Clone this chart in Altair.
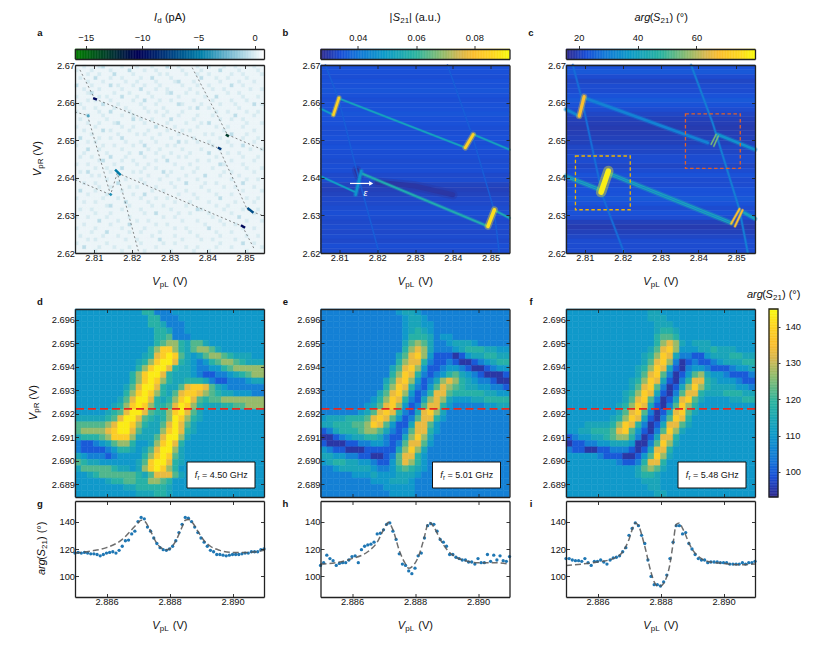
import altair as alt
import numpy as np
import pandas as pd

FONT = "Liberation Sans"
INK = "#222222"

# ---------- domains ----------
TOP_X = [2.805, 2.855]
TOP_Y = [2.62, 2.67]
BOT_X = [2.885, 2.891]
BOT_Y = [2.68845, 2.69645]
LINE_Y = [85, 155]
CB_A = [-15.95, 0.83]
CB_B = [0.0272, 0.0921]
CB_C = [15.7, 79.9]
CB_D = [93.1, 144.85]

PARULA_T = [0, .11, .2, .34, .505, .64, .74, .81, .92, 1]
PARULA_C = ["#322a8c", "#1a50d8", "#1578d8", "#0f9cc8", "#2bb4a0", "#8cbc70", "#d8b850", "#fbbf30", "#fdd820", "#f9fb0e"]
OCEAN_T = [0, .2, .333, .5, .667, .833, 1]
OCEAN_C = ["#008000", "#003333", "#000055", "#004080", "#0080aa", "#80bfd4", "#ffffff"]


def cscale(dom, ts, cs):
    return alt.Scale(domain=[dom[0] + (dom[1] - dom[0]) * t for t in ts], range=cs, clamp=True, interpolate="rgb")


SC_A = cscale(CB_A, OCEAN_T, OCEAN_C)
SC_B = cscale(CB_B, PARULA_T, PARULA_C)
SC_C = cscale(CB_C, PARULA_T, PARULA_C)
SC_D = cscale(CB_D, PARULA_T, PARULA_C)

# ---------- heat map levels: one character per cell, top row first ----------
LEVEL_D = {"0": 95, "1": 100, "2": 105, "3": 110, "4": 114, "5": 118, "6": 122, "7": 127, "8": 133, "9": 138, "a": 143}
LEVEL_A = {"0": 0.4, "1": -0.05, "2": -0.6}

GRID_A = [
 "00100012000010001000100020010000100100010010000100",
 "10001000010000200010010000001000010000200001000010",
 "00010010002000010000001010000100100100000100100001",
 "01000200010010000100200001000000020001001000010000",
 "00010001000001001000010000120001000000100001000100",
 "20001000020100010010001000001000100100000200100000",
 "00100010000010000200010010000010000010010000001001",
 "00012000001000100001000012000100100000001001000000",
 "10000010100020001000100000010000001002000000100010",
 "00010100010000010020001001000001000010000100010000",
 "01000002000100000100010000021000010000100010000201",
 "00100100001001000010000100000010200100000001000000",
 "10000010020000100001010010001000000001001000010010",
 "00020001000010010000000100010000100010000020000100",
 "01000000100000020100100002000001000000100100100000",
 "00010010001200000010000010000100010200000000010001",
 "10000100000010010000020000100000100001001000100000",
 "00100002010000100001000010001010000000010000000100",
 "00001000000100001010001000010000001010000200010000",
 "02000010010020000000100001000001000000100000100010",
 "00010100000001000100010000020100100100001000000100",
 "10000001001000010020000010100000000010000100200000",
 "00020010000010000001001000001000010000100000001001",
 "00100000100000100200010001000010000200001001000000",
 "01001000020001000010000100010100000001000000100010",
 "00000012000010010000010020000000100100000100000100",
 "10010000001000001001000000100010000000210000100000",
 "00000100100020000010010000001000100010000000010001",
 "01020000010000010100000201000001000000010100000100",
 "00001010000100000001000010000100002000100001000000",
 "10000000100001000100001000010000100000000100010010",
 "00100100000200000010000001000200001001000000200000",
 "00000010010000101000010000100000010000010010000100",
 "02000100000010000000100100000100000100000000100001",
 "00010000100000010020000000010001000001000100000000",
 "10000001000100000100010010000000100000200000010010",
 "00100100000002000001000000100010000100000010000100",
 "00000000120000100000100100000100000001001000000000",
 "01001000000010000100000001000000210000010000100010",
 "00000100010000000010020000010010000100000100000100",
 "10010000100000100000000100100000000010000002000000",
 "00000020000100001001000000001000100000100000010001",
 "00100000010000200000010010000000001000010010000000",
 "10000100000010000010000000100100000200000000100100",
 "00001000200000100100001000000010000001000100000000",
 "01000001000100000000100000100000100000100000010010",
 "00010100000001001000002000001000010010000010000000",
 "10000000100000000100000100100000000000100000200100",
 "00200010001000100000010000000100100001000100000001",
 "00000100000010000010000001000001000100000000010000",
]
GRID_D = [
 "3"*11+"55222"+"3"*14, "3"*12+"55222"+"3"*13, "3"*12+"554222"+"3"*12, "3"*13+"55422"+"3"*12,
 "3"*13+"556222"+"3"*11, "3"*13+"5677546643"+"3"*7, "3"*12+"579975467764"+"3"*6,
 "3"*11+"4589a9643467765"+"4443", "3"*10+"4579aa85432356776544", "3"*10+"579aa854432233567777",
 "3"*9+"579aa8544432112234567", "3"*9+"579a97544555421122234", "3"*8+"468aa85446899864322222",
 "3"*8+"579a975468998765443332", "3"*7+"468aa854579a865667777777",
 "3"*6+"4579a975568a975444556677", "3"*5+"4568aa865579a864"+"3"*9,
 "44444568aa865457a97543"+"3"*7, "6666678aa9754468a864"+"3"*10,
 "6777789aa8644479a854"+"3"*10, "455567999744468aa74"+"3"*11,
 "211234677533479a85"+"3"*12, "2111123554346" + "8aa74"+"3"*12,
 "43222123333579a964"+"3"*12, "6544333333469aa854"+"3"*12,
 "4666665443479a975"+"3"*13, "334566666654688864"+"3"*12,
 "3"*5+"45566557765"+"3"*14, "3"*8+"44555554"+"3"*14, "3"*10+"444554"+"3"*14,
]
GRID_E = [
 "2"*12+"3443"+"2"*14, "2"*13+"3443"+"2"*13, "2"*13+"34433"+"2"*12, "2"*13+"34543"+"2"*12,
 "2"*13+"35554233"+"2"*9, "2"*13+"467642234443"+"2"*5, "2"*13+"57874222345554433",
 "2"*12+"468973111013445544", "2"*12+"578852112100123455", "2"*11+"4689731123321001233",
 "2"*11+"5798521235643210001", "2"*10+"46897312478754322100", "2"*10+"57985213687654433221",
 "2"*9+"468973125886555554433", "2"*8+"3579852147874333445555", "2"*7+"34689731268853222223344",
 "2"*6+"34689852148974"+"2"*10, "34445556898631268853"+"2"*10, "4455566798631148863"+"2"*11,
 "1245556776421268853"+"2"*11, "001234455421147974"+"2"*12, "100011223321268863"+"2"*12,
 "32110001111147974"+"2"*13, "44332211001268853"+"2"*13, "34554433211368753"+"2"*13,
 "22344444322356543"+"2"*13, "2"*5+"33343334443"+"2"*14, "2"*8+"3334443"+"2"*15,
 "2"*10+"33333"+"2"*15, "2"*11+"3333"+"2"*15,
]
GRID_F = [
 "3"*13+"44"+"3"*15, "3"*13+"444"+"3"*14, "3"*14+"444"+"3"*13, "3"*14+"4554"+"3"*12, "3"*14+"5665"+"3"*12,
 "3"*14+"578743444"+"3"*7, "3"*13+"46897333445444"+"3"*3, "3"*12+"457984221134445544",
 "3"*12+"468972012112344455", "3"*11+"4579841023321112334", "3"*11+"4689620136743321112",
 "3"*10+"45798410258854333211", "3"*10+"46896201479754444332", "3"*9+"457984102688544455544",
 "3"*9+"468962014896433334455", "3"*8+"4579841026975"+"3"*9, "3"*8+"4689620148964"+"3"*9,
 "3"*7+"4579841026985"+"3"*10, "333"+"44445798520148864"+"3"*10, "3344555689631026974"+"3"*11,
 "123344567752014885"+"3"*12, "011223344430026974"+"3"*12, "21100112221014885"+"3"*13,
 "3"*5+"211100136974"+"3"*13, "3"*8+"21125885"+"3"*14, "3"*11+"46764"+"3"*14,
 "3"*11+"4554"+"3"*15, "3"*12+"444"+"3"*15, "3"*13+"44"+"3"*15, "3"*14+"44"+"3"*14,
]

# ---------- horizontal stripes of panels b and c, top row first ----------
STRIPES_B = [.0345, .0345, .034, .0345, .0345, .035, .0345, .034, .0345, .0345, .035, .0345, .0345, .034, .034, .0345,
             .034, .0345, .034, .034, .0335, .034, .034, .033, .0335, .032, .0315, .032, .033, .033, .0335, .034,
             .0335, .033, .0335, .033, .0335, .033, .034, .0335]
STRIPES_C = [23, 24, 22, 21, 22, 22, 23, 24, 23, 22, 21, 20, 19.5, 19, 19.5, 20, 20, 21, 21, 22,
             22, 21, 22, 23, 22, 22, 23, 23, 24, 23, 22, 23, 22, 20, 19, 20, 21, 22, 22, 22]

# ---------- transition lines: (x list, y list, value) ----------
LINES_A = {
 "l1": ([2.8063, 2.8102], [2.6687, 2.6610], -3.0), "l2": ([2.8083, 2.8162, 2.8144, 2.8219], [2.6566, 2.6413, 2.6355, 2.62], -3.0),
 "l3": ([2.8102, 2.8427], [2.6610, 2.6480], -3.0), "l4": ([2.805, 2.8083], [2.6575, 2.6566], -3.0),
 "l5": ([2.8162, 2.8493], [2.6413, 2.6271], -3.0), "l6": ([2.805, 2.8144], [2.6395, 2.6355], -3.0),
 "l7": ([2.836, 2.8453], [2.6693, 2.6515], -3.0), "l8": ([2.8453, 2.855], [2.6515, 2.6473], -3.0),
 "l9": ([2.8431, 2.8506], [2.6478, 2.6315], -3.0), "l10": ([2.8506, 2.855], [2.6315, 2.6298], -3.0),
 "l11": ([2.8493, 2.8525], [2.6271, 2.6209], -3.0),
}
SPOTS_A = {
 "s1": ([2.8098, 2.8108], [2.6612, 2.6608], -10), "s2": ([2.8156, 2.8171], [2.6422, 2.6407], -5),
 "s3": ([2.8142, 2.8147], [2.6358, 2.6353], -4), "s4": ([2.8083, 2.8087], [2.6568, 2.6562], -3),
 "s5": ([2.8449, 2.8457], [2.6515, 2.651], -13), "s6": ([2.8428, 2.8437], [2.648, 2.6476], -8),
 "s7": ([2.8489, 2.85], [2.6274, 2.6267], -10), "s8": ([2.8506, 2.8522], [2.632, 2.6307], -7),
}
LINES_B = {
 "d1": ([2.82, 2.83, 2.84], [2.6388, 2.6378, 2.6355], .0295), "d2": ([2.8146, 2.8152], [2.642, 2.6405], .029),
 "f1": ([2.8063, 2.8098, 2.8145, 2.8205], [2.67, 2.6609, 2.6422, 2.62], .0365),
 "f2": ([2.8386, 2.8452, 2.8509, 2.8523], [2.67, 2.6511, 2.6315, 2.62], .0365),
 "t1": ([2.8099, 2.8434], [2.6611, 2.648], .052), "t2": ([2.805, 2.8085], [2.6584, 2.6567], .05),
 "t3": ([2.8455, 2.855], [2.6515, 2.6475], .052), "t4": ([2.805, 2.814], [2.6404, 2.6363], .05),
 "t5": ([2.816, 2.8493], [2.6411, 2.6271], .056), "t6": ([2.851, 2.855], [2.6314, 2.6293], .055),
 "m1": ([2.8143, 2.8158], [2.6355, 2.6418], .047),
 "y1": ([2.8084, 2.8099], [2.6567, 2.6613], .085), "y2": ([2.8433, 2.8454], [2.648, 2.6515], .085),
 "y3": ([2.8493, 2.851], [2.6271, 2.6315], .088),
}
WIDTHS_B = {"d1": 5, "d2": 5, "f1": 1.1, "f2": 1.1, "t1": 1.5, "t2": 1.5, "t3": 1.5, "t4": 1.5, "t5": 2, "t6": 1.7, "m1": 2.6, "y1": 2.6, "y2": 3, "y3": 3.6}
LINES_C = {
 "f1": ([2.8068, 2.809, 2.8147, 2.8204], [2.67, 2.6617, 2.6351, 2.62], 27),
 "f2": ([2.8381, 2.8438, 2.8509, 2.8531], [2.67, 2.6546, 2.6315, 2.62], 30),
 "u1": ([2.8098, 2.8425], [2.6613, 2.6493], 31), "u2": ([2.8451, 2.855], [2.6515, 2.6475], 35),
 "u3": ([2.805, 2.8085], [2.6582, 2.6564], 32),
 "w1": ([2.8169, 2.8487], [2.6409, 2.628], 42), "w2": ([2.805, 2.8138], [2.6404, 2.6369], 42),
 "w3": ([2.8522, 2.855], [2.6307, 2.6291], 40),
 "in1": ([2.8169, 2.8487], [2.6409, 2.628], 29), "in2": ([2.805, 2.8138], [2.6404, 2.6369], 29),
 "r1": ([2.8434, 2.8447], [2.6489, 2.6515], 55), "r2": ([2.8441, 2.8453], [2.6484, 2.6511], 55),
 "r3": ([2.8487, 2.8509], [2.6278, 2.6317], 68), "r4": ([2.8497, 2.8517], [2.6271, 2.6314], 68),
 "y1": ([2.8085, 2.8098], [2.6564, 2.6616], 68), "y2": ([2.8143, 2.8162], [2.6362, 2.6418], 78),
}
WIDTHS_C = {"f1": 1.6, "f2": 1.6, "u1": 2.6, "u2": 2.6, "u3": 2.6, "w1": 3, "w2": 3, "w3": 2.6, "in1": .8, "in2": .8,
            "r1": 1.2, "r2": 1.2, "r3": 1.7, "r4": 1.7, "y1": 3.2, "y2": 5.5}

BOX_YELLOW = ([2.8075, 2.822], [2.6315, 2.6458])
BOX_RED = ([2.8366, 2.8511], [2.6425, 2.657])
ARROW = ([2.8128, 2.8184], 2.6385)
EPS = (2.8169, 2.636)
CUT_Y = 2.6922

# ---------- line cuts ----------
SWEEP = [2.8850, 2.8851, 2.8852, 2.8853, 2.8854, 2.8855, 2.8856, 2.8857, 2.8858, 2.8859, 2.8860, 2.8861, 2.8862, 2.8863, 2.8864,
         2.8865, 2.8866, 2.8867, 2.8868, 2.8869, 2.8870, 2.8871, 2.8872, 2.8873, 2.8874, 2.8875, 2.8876, 2.8877, 2.8878, 2.8879,
         2.8880, 2.8881, 2.8882, 2.8883, 2.8884, 2.8885, 2.8886, 2.8887, 2.8888, 2.8889, 2.8890, 2.8891, 2.8892, 2.8893, 2.8894,
         2.8895, 2.8896, 2.8897, 2.8898, 2.8899, 2.8900, 2.8901, 2.8902, 2.8903, 2.8904, 2.8905, 2.8906, 2.8907, 2.8908, 2.8909, 2.8910]
CUT_G = [117, 117.5, 117, 117.5, 117, 116.5, 116.5, 116, 115, 116, 117, 117.5, 118, 117, 119, 122, 126, 126.5, 131, 133,
         140, 143, 142, 136, 133, 128, 124, 121, 119.5, 119, 120, 122, 126, 132, 138, 143, 142.5, 140, 136, 132,
         128, 125, 122, 119, 118, 116, 116, 115.5, 115, 115.5, 116, 116, 116, 116.5, 117, 117, 118, 118, 118, 119.5, 120]
CUT_H = [108, 110, 115.5, 113, 111.5, 108, 109.5, 110, 110, 112, 114.5, 115, 110, 119.5, 122, 123, 123.5, 125, 131, 131.5,
         134, 138, 139, 133, 127, 116.5, 109, 108, 104, 102, 106, 115, 117, 128, 137, 138.5, 138, 133, 127, 125,
         122, 116, 116, 114, 113, 112, 112, 110.5, 110.5, 109, 113, 110, 110, 116, 111, 115.5, 112, 115, 111.5, 111, 114.5]
CUT_I = [113, 113, 112, 111.5, 111.5, 111, 113, 110, 108, 111, 111, 112, 110.5, 109, 112, 113.5, 114, 115, 118, 121,
         130, 135, 139, 137, 130, 124, 112, 100, 94, 94, 93, 96, 101, 113, 125, 137, 137, 131, 132, 124,
         120, 116, 113, 112, 112, 110, 110.5, 110.5, 110.5, 110, 110, 110, 109, 109, 109, 109, 110, 109, 110, 110, 111]
FIT_G = ([2.885, 2.8855, 2.886, 2.8865, 2.8868, 2.887, 2.8871, 2.8872, 2.8874, 2.8876, 2.8878, 2.8879, 2.888, 2.8882, 2.8884, 2.8885, 2.8886, 2.8887, 2.8889, 2.8891, 2.8893, 2.8896, 2.89, 2.8905, 2.891],
         [117, 118.5, 121, 127, 134, 139, 141, 140.5, 133, 124, 120, 119.5, 120, 126, 136, 141, 141.5, 140, 133, 126, 122, 119, 117.5, 117.5, 119])
FIT_H = ([2.885, 2.8855, 2.886, 2.8865, 2.8868, 2.887, 2.8871, 2.88715, 2.8873, 2.8875, 2.8877, 2.8878, 2.8879, 2.8881, 2.8883, 2.8884, 2.88845, 2.8886, 2.8888, 2.889, 2.8893, 2.8896, 2.89, 2.8905, 2.891],
         [109, 110, 113, 118, 125, 134, 138, 139.5, 134, 119, 109, 106, 107, 114, 129, 138, 139.5, 136, 127, 120, 114, 111.5, 110, 110, 109])
FIT_I = ([2.885, 2.8855, 2.886, 2.8865, 2.8868, 2.887, 2.8871, 2.8872, 2.8873, 2.8875, 2.8877, 2.8878, 2.8879, 2.888, 2.8881, 2.8883, 2.8884, 2.8885, 2.8886, 2.8887, 2.889, 2.8893, 2.8896, 2.89, 2.8905, 2.891],
         [108, 109, 110.5, 113, 118, 127, 134, 139, 137, 122, 103, 96, 93, 93, 95, 109, 124, 138, 139, 135, 120, 113, 110.5, 109.5, 108.5, 109])

TICK_TOP_X = [2.81, 2.82, 2.83, 2.84, 2.85]
TICK_TOP_Y = [2.62, 2.63, 2.64, 2.65, 2.66, 2.67]
TICK_BOT_X = [2.886, 2.888, 2.890]
TICK_BOT_Y = [2.689, 2.690, 2.691, 2.692, 2.693, 2.694, 2.695, 2.696]
TICK_LINE_Y = [100, 120, 140]
TICK_CB_A = [-15, -10, -5, 0]
TICK_CB_B = [0.04, 0.06, 0.08]
TICK_CB_C = [20, 40, 60]
TICK_CB_D = [100, 110, 120, 130, 140]

W, H_TOP, H_BOT, H_CUT, H_CB = 189, 188, 188, 96, 10
ONE = pd.DataFrame({"a": [0]})


def sc(dom):
    return alt.Scale(domain=dom, nice=False, zero=False)


def ax(orient, values, fmt=None, labels=True, ticks=True, size=-3.5):
    kw = dict(orient=orient, values=values, labels=labels, ticks=ticks, title=None, grid=False, domain=True,
              domainColor=INK, domainWidth=1.3, tickColor=INK, tickWidth=0.9, zindex=2,
              labelFont=FONT, labelFontSize=9.3, labelColor="#111111", labelPadding=4)
    kw["tickSize"] = {"expr": str(size)}
    if fmt:
        kw["format"] = fmt
    return alt.Axis(**kw)


def frame(xd, yd, xv, yv, xf=None, yf=None, xl=True, yl=True):
    df = pd.DataFrame({"x": xd, "y": yd})
    a = alt.Chart(df).mark_point(opacity=0).encode(
        x=alt.X("x:Q", scale=sc(xd), axis=ax("bottom", xv, xf, xl)),
        y=alt.Y("y:Q", scale=sc(yd), axis=ax("left", yv, yf, yl)))
    b = alt.Chart(df).mark_point(opacity=0).encode(
        x=alt.X("x:Q", scale=sc(xd), axis=ax("top", xv, None, False)),
        y=alt.Y("y:Q", scale=sc(yd), axis=ax("right", yv, None, False)))
    return [a, b]


def cells(df, xd, yd, scale):
    return alt.Chart(df).mark_rect(strokeWidth=0.5).encode(
        x=alt.X("x0:Q", scale=sc(xd), axis=None), x2="x1:Q",
        y=alt.Y("y0:Q", scale=sc(yd), axis=None), y2="y1:Q",
        color=alt.Color("v:Q", scale=scale, legend=None),
        stroke=alt.Stroke("v:Q", scale=scale, legend=None))


def grid_df(rows, levels, xd, yd):
    n, m = len(rows), max(len(r) for r in rows)
    xe, ye = np.linspace(xd[0], xd[1], m + 1), np.linspace(yd[1], yd[0], n + 1)
    out = []
    for r, row in enumerate(rows):
        row = row[:m].ljust(m, row[-1])
        for c, ch in enumerate(row):
            out.append((xe[c], xe[c + 1], ye[r + 1], ye[r], levels[ch]))
    return pd.DataFrame(out, columns=["x0", "x1", "y0", "y1", "v"])


def stripe_df(vals, xd, yd):
    ye = np.linspace(yd[1], yd[0], len(vals) + 1)
    return pd.DataFrame({"x0": xd[0], "x1": xd[1], "y0": ye[1:], "y1": ye[:-1], "v": vals})


def seg(xs, ys, v, xd, yd, scale, width, **kw):
    df = pd.DataFrame({"x": xs, "y": ys, "v": v})
    return alt.Chart(df).mark_line(strokeWidth=width, **kw).encode(
        x=alt.X("x:Q", scale=sc(xd), axis=None), y=alt.Y("y:Q", scale=sc(yd), axis=None),
        color=alt.Color("v:Q", scale=scale, legend=None))


def soft(lines, widths, scale):
    out = []
    for k, (xs, ys, v) in lines.items():
        w = widths[k]
        if w > 1:
            out.append(seg(xs, ys, v, TOP_X, TOP_Y, scale, w * 1.9, opacity=.38, strokeCap="round"))
        out.append(seg(xs, ys, v, TOP_X, TOP_Y, scale, w, strokeCap="round"))
    return out


def cw(t, s):
    tot = 0
    for ch in t:
        if ch in " ()|.,il:Ifr":
            tot += .29 * s
        elif ch == "°":
            tot += .4 * s
        elif ch == "=":
            tot += .58 * s
        elif ch.isupper():
            tot += .68 * s
        else:
            tot += .556 * s
    return tot


def rich(parts, cx, cy, angle=0):
    total = sum(cw(p[0], p[1]) for p in parts)
    out = []
    pos = -total / 2
    for t, s, st, dy in parts:
        body = t.lstrip(" ")
        lead = pos + cw(t[:len(t) - len(body)], s)
        if angle == 0:
            x, y = cx + lead, cy + dy
        else:
            x, y = cx + dy, cy - lead
        out.append(alt.Chart(ONE).mark_text(text=body, font=FONT, fontSize=s, fontStyle=st, align="left", baseline="alphabetic",
                                            angle=angle, color="#111111").encode(x=alt.value(x), y=alt.value(y)))
        pos += cw(t, s)
    return out


def letter(t, x, y):
    return alt.Chart(ONE).mark_text(text=t, font=FONT, fontSize=9.5, fontWeight="bold", align="center", baseline="alphabetic",
                                    color="#111111").encode(x=alt.value(x), y=alt.value(y))


def merge(layers, w, h):
    return alt.layer(*layers).resolve_scale(x="independent", y="independent", color="independent", stroke="independent") \
        .resolve_axis(x="independent", y="independent").properties(width=w, height=h)


def spacer(h):
    return alt.Chart(ONE).mark_point(opacity=0).encode(x=alt.value(0), y=alt.value(0)).properties(width=W, height=h)


T_N, T_S = 11, 8
P_VPL = [("V", T_N, "italic", 0), ("pL", T_S, "normal", 2), (" (V)", T_N, "normal", 0)]
P_VPR = [("V", T_N, "italic", 0), ("pR", T_S, "normal", 2), (" (V)", T_N, "normal", 0)]
P_ID = [("I", T_N, "italic", 0), ("d", T_S, "normal", 2), (" (pA)", T_N, "normal", 0)]
P_S = [("|", T_N, "normal", 0), ("S", T_N, "italic", 0), ("21", T_S, "normal", 2), ("| (a.u.)", T_N, "normal", 0)]
P_ARG = [("arg", T_N, "italic", 0), ("(", T_N, "normal", 0), ("S", T_N, "italic", 0), ("21", T_S, "normal", 2), (") (°)", T_N, "normal", 0)]


def colorbar(dom, scale, ticks, fmt, title, let):
    vals = np.linspace(dom[0], dom[1], 120)
    df = pd.DataFrame({"x0": vals[:-1], "x1": vals[1:], "y0": 0.0, "y1": 1.0, "v": (vals[:-1] + vals[1:]) / 2})
    d2 = pd.DataFrame({"x": dom, "y": [0, 1]})
    top = alt.Chart(d2).mark_point(opacity=0).encode(
        x=alt.X("x:Q", scale=sc(dom), axis=alt.Axis(orient="top", values=ticks, format=fmt, title=None, grid=False, domainColor=INK, domainWidth=1.3,
                                                    tickColor=INK, tickSize=3.5, tickWidth=.9, labelFont=FONT, labelFontSize=9.3, labelColor="#111111", labelPadding=3, zindex=2)),
        y=alt.Y("y:Q", scale=sc([0, 1]), axis=alt.Axis(orient="left", values=[], labels=False, ticks=False, title=None, grid=False, domainColor=INK, domainWidth=1.3, zindex=2)))
    bot = alt.Chart(d2).mark_point(opacity=0).encode(
        x=alt.X("x:Q", scale=sc(dom), axis=alt.Axis(orient="bottom", values=[], labels=False, ticks=False, title=None, grid=False, domainColor=INK, domainWidth=1.3, zindex=2)),
        y=alt.Y("y:Q", scale=sc([0, 1]), axis=alt.Axis(orient="right", values=[], labels=False, ticks=False, title=None, grid=False, domainColor=INK, domainWidth=1.3, zindex=2)))
    return merge([cells(df, dom, [0, 1], scale), top, bot] + rich(title, W / 2, -28) + [letter(let, -35, -13)], W, H_CB)


def top_panel(layers, ytitle=False):
    ls = layers + frame(TOP_X, TOP_Y, TICK_TOP_X, TICK_TOP_Y, ".2f", ".2f") + rich(P_VPL, W / 2, H_TOP + 32)
    if ytitle:
        ls += rich(P_VPR, -34, H_TOP / 2, 270)
    return merge(ls, W, H_TOP)


# panel a
layers_a = [cells(grid_df(GRID_A, LEVEL_A, TOP_X, TOP_Y), TOP_X, TOP_Y, SC_A)]
for k, (xs, ys, v) in LINES_A.items():
    layers_a.append(seg(xs, ys, v, TOP_X, TOP_Y, alt.Scale(domain=[-16, 1], range=["#555555", "#555555"]), 1, strokeDash=[2, 2.5], opacity=.7))
for k, (xs, ys, v) in SPOTS_A.items():
    layers_a.append(seg(xs, ys, v, TOP_X, TOP_Y, SC_A, 2.4))

# panel b
layers_b = [cells(stripe_df(STRIPES_B, TOP_X, TOP_Y), TOP_X, TOP_Y, SC_B)] + soft(LINES_B, WIDTHS_B, SC_B)
layers_b.append(alt.Chart(pd.DataFrame({"x": [ARROW[0][0]], "x2": [ARROW[0][1]], "y": [ARROW[1]]})).mark_rule(color="white", strokeWidth=1.2).encode(
    x=alt.X("x:Q", scale=sc(TOP_X), axis=None), x2="x2:Q", y=alt.Y("y:Q", scale=sc(TOP_Y), axis=None)))
layers_b.append(alt.Chart(pd.DataFrame({"x": [ARROW[0][1]], "y": [ARROW[1]]})).mark_point(shape="triangle-right", filled=True, opacity=1, size=22, color="white").encode(
    x=alt.X("x:Q", scale=sc(TOP_X), axis=None), y=alt.Y("y:Q", scale=sc(TOP_Y), axis=None)))
layers_b.append(alt.Chart(pd.DataFrame({"x": [EPS[0]], "y": [EPS[1]]})).mark_text(text="ε", font=FONT, fontStyle="italic", fontSize=9, color="white").encode(
    x=alt.X("x:Q", scale=sc(TOP_X), axis=None), y=alt.Y("y:Q", scale=sc(TOP_Y), axis=None)))

# panel c
layers_c = [cells(stripe_df(STRIPES_C, TOP_X, TOP_Y), TOP_X, TOP_Y, SC_C)] + soft(LINES_C, WIDTHS_C, SC_C)
for (bx, by), col in ((BOX_YELLOW, "#f0b400"), (BOX_RED, "#e0602a")):
    layers_c.append(alt.Chart(pd.DataFrame({"x": [bx[0]], "x2": [bx[1]], "y": [by[0]], "y2": [by[1]]})).mark_rect(
        fillOpacity=0, stroke=col, strokeWidth=1.3, strokeDash=[3.5, 2.5]).encode(
        x=alt.X("x:Q", scale=sc(TOP_X), axis=None), x2="x2:Q", y=alt.Y("y:Q", scale=sc(TOP_Y), axis=None), y2="y2:Q"))


def label_box(freq):
    box = alt.Chart(ONE).mark_rect(fill="white", stroke="#111111", strokeWidth=1).encode(
        x=alt.value(112), x2=alt.value(180), y=alt.value(153), y2=alt.value(179))
    txt = [("f", 9, "italic", 0), ("r", 6.5, "normal", 2), (f" = {freq} GHz", 9, "normal", 0)]
    return [box] + rich(txt, 146, 169)


def bot_panel(rows, freq, extra=None, let=None, ytitle=False):
    ls = [cells(grid_df(rows, LEVEL_D, BOT_X, BOT_Y), BOT_X, BOT_Y, SC_D)]
    ls.append(alt.Chart(pd.DataFrame({"y": [CUT_Y]})).mark_rule(color="#e8281e", strokeWidth=1.7, strokeDash=[8, 4], opacity=1).encode(
        y=alt.Y("y:Q", scale=sc(BOT_Y), axis=None)))
    ls += label_box(freq)
    ls += frame(BOT_X, BOT_Y, TICK_BOT_X, TICK_BOT_Y, None, ".3f", xl=False)
    ls.append(letter(let, -35, -4))
    if ytitle:
        ls += rich(P_VPR, -38, H_BOT / 2, 270)
    if extra:
        ls += extra
    return merge(ls, W, H_BOT)


def cut_panel(cut, fit, let, ytitle=False):
    ls = [alt.Chart(pd.DataFrame({"x": SWEEP, "y": cut})).mark_circle(size=11, color="#1f77b4", opacity=1).encode(
        x=alt.X("x:Q", scale=sc(BOT_X), axis=None), y=alt.Y("y:Q", scale=sc(LINE_Y), axis=None))]
    ls.append(alt.Chart(pd.DataFrame({"x": fit[0], "y": fit[1]})).mark_line(color="#555555", strokeWidth=1.5, strokeDash=[6, 3], interpolate="monotone", opacity=.85).encode(
        x=alt.X("x:Q", scale=sc(BOT_X), axis=None), y=alt.Y("y:Q", scale=sc(LINE_Y), axis=None)))
    ls += frame(BOT_X, LINE_Y, TICK_BOT_X, TICK_LINE_Y, ".3f", "d")
    ls += rich(P_VPL, W / 2, H_CUT + 32)
    ls.append(letter(let, -35, 6))
    if ytitle:
        ls += rich(P_ARG, -30, H_CUT / 2, 270)
    return merge(ls, W, H_CUT)


# right colour bar, attached to panel f
cb_vals = np.linspace(CB_D[0], CB_D[1], 120)
cb_df = pd.DataFrame({"y0": cb_vals[:-1], "y1": cb_vals[1:], "v": (cb_vals[:-1] + cb_vals[1:]) / 2})
cb_rect = alt.Chart(cb_df).mark_rect(strokeWidth=.5).encode(
    x=alt.value(203), x2=alt.value(212),
    y=alt.Y("y0:Q", scale=sc(CB_D), axis=alt.Axis(orient="right", offset=23, values=TICK_CB_D, title=None, grid=False, domain=False, tickColor=INK, tickWidth=.9, tickSize=2,
                                                   labelFont=FONT, labelFontSize=9.3, labelColor="#111111", labelPadding=5, zindex=2)),
    y2="y1:Q",
    color=alt.Color("v:Q", scale=SC_D, legend=None), stroke=alt.Stroke("v:Q", scale=SC_D, legend=None))
cb_box = alt.Chart(ONE).mark_rect(fillOpacity=0, stroke=INK, strokeWidth=1.3).encode(
    x=alt.value(203), x2=alt.value(212), y=alt.value(0), y2=alt.value(H_BOT))
extra_f = [cb_rect, cb_box] + rich(P_ARG, 207, -11)

cells_all = [
    colorbar(CB_A, SC_A, TICK_CB_A, "d", P_ID, "a"),
    colorbar(CB_B, SC_B, TICK_CB_B, ".2f", P_S, "b"),
    colorbar(CB_C, SC_C, TICK_CB_C, "d", P_ARG, "c"),
    spacer(6), spacer(6), spacer(6),
    top_panel(layers_a, ytitle=True), top_panel(layers_b), top_panel(layers_c),
    spacer(56), spacer(56), spacer(56),
    bot_panel(GRID_D, "4.50", let="d", ytitle=True), bot_panel(GRID_E, "5.01", let="e"), bot_panel(GRID_F, "5.48", extra_f, let="f"),
    spacer(4), spacer(4), spacer(4),
    cut_panel(CUT_G, FIT_G, "g", ytitle=True), cut_panel(CUT_H, FIT_H, "h"), cut_panel(CUT_I, FIT_I, "i"),
]

chart = alt.concat(*cells_all, columns=3, spacing={"row": 0, "column": 56.5}, bounds="flush", align="each") \
    .properties(padding={"left": 19, "top": 4, "right": 5, "bottom": 5}) \
    .configure_view(stroke=None)

chart.save("out.html", embed_options={"renderer": "svg", "actions": False})
